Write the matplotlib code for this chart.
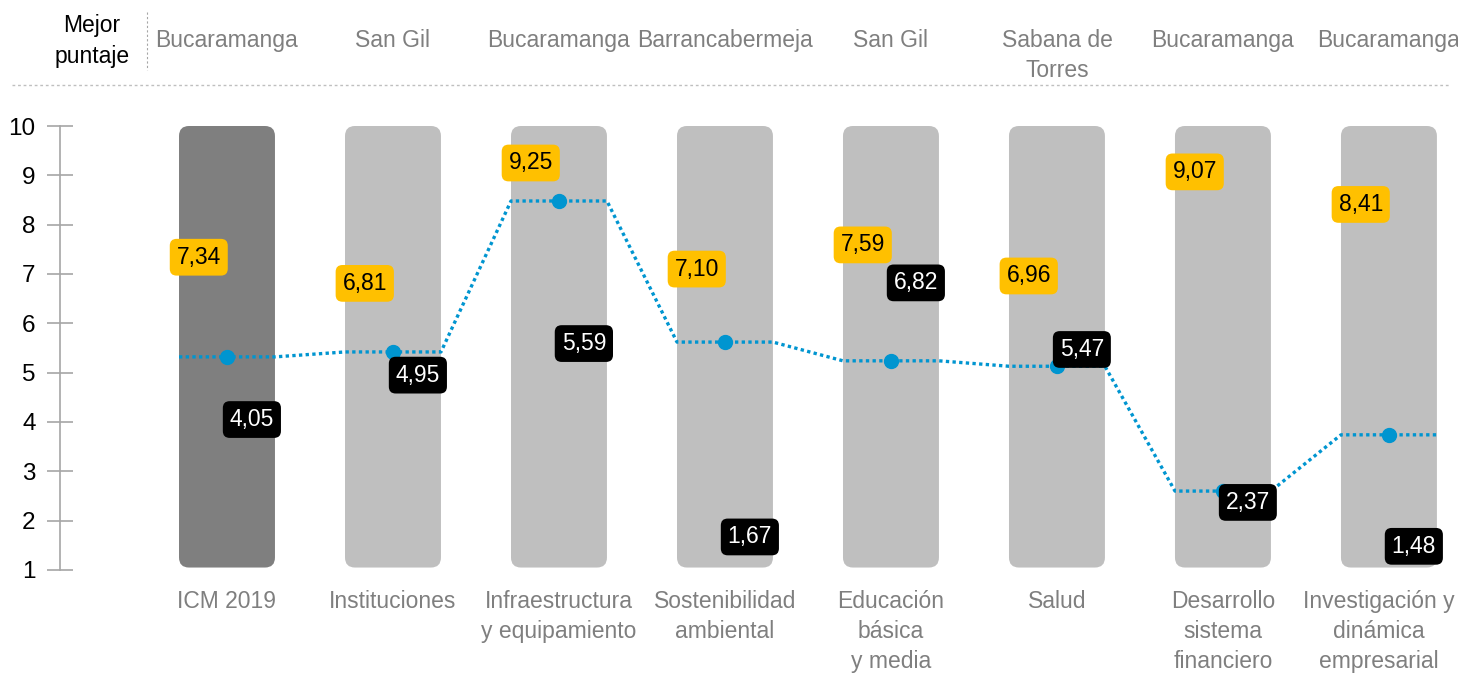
import matplotlib.pyplot as plt
from matplotlib.patches import FancyBboxPatch
from matplotlib.lines import Line2D
from matplotlib.transforms import blended_transform_factory

plt.rcParams['font.family'] = ['Liberation Sans', 'DejaVu Sans']

# Datos por pilar
categorias = ['ICM 2019', 'Instituciones', 'Infraestructura\ny equipamiento',
              'Sostenibilidad\nambiental', 'Educación\nbásica\ny media', 'Salud',
              'Desarrollo\nsistema\nfinanciero', 'Investigación y\ndinámica\nempresarial']
mejor_municipio = ['Bucaramanga', 'San Gil', 'Bucaramanga', 'Barrancabermeja',
                   'San Gil', 'Sabana de\nTorres', 'Bucaramanga', 'Bucaramanga']
mejor_puntaje = [7.34, 6.81, 9.25, 7.10, 7.59, 6.96, 9.07, 8.41]
peor_puntaje = [4.05, 4.95, 5.59, 1.67, 6.82, 5.47, 2.37, 1.48]
promedio = [5.32, 5.42, 8.48, 5.62, 5.24, 5.13, 2.60, 3.74]

W, H = 1458, 677
fig = plt.figure(figsize=(W / 100, H / 100), dpi=100)
ax = fig.add_axes([60 / W, 107 / H, (W - 60) / W, 444 / H])

GRIS = '#7f7f7f'
AZUL = '#0095d0'
FS = 16.5
ancho = 0.578
n = len(categorias)

ax.set_xlim(-1.006, 7.416)
ax.set_ylim(1, 10)

# Barras de fondo redondeadas (escala 1 a 10)
for i in range(n):
    color = '#7f7f7f' if i == 0 else '#bfbfbf'
    ax.add_patch(FancyBboxPatch((i - ancho / 2, 1.05), ancho, 8.95,
                                boxstyle='round,pad=0,rounding_size=0.06',
                                mutation_aspect=3.37, fc=color, ec='none', zorder=1))

# Linea punteada del promedio: tramo plano sobre cada barra
xs, ys = [], []
for i, v in enumerate(promedio):
    xs += [i - ancho / 2, i + ancho / 2]
    ys += [v, v]
ax.plot(xs, ys, color=AZUL, lw=2.4, ls=(0, (1, 1)), zorder=2)
ax.plot(range(n), promedio, 'o', color=AZUL, ms=10, zorder=3)

# Etiquetas de mejor (amarillo) y peor (negro) puntaje
caja = 'round,pad=0.3,rounding_size=0.3'
for i in range(n):
    ax.text(i - 0.17, mejor_puntaje[i], f'{mejor_puntaje[i]:.2f}'.replace('.', ','),
            ha='center', va='center', fontsize=FS, color='black', zorder=4,
            bbox=dict(boxstyle=caja, fc='#ffc000', ec='none'))
    ax.text(i + 0.15, peor_puntaje[i], f'{peor_puntaje[i]:.2f}'.replace('.', ','),
            ha='center', va='center', fontsize=FS, color='white', zorder=4,
            bbox=dict(boxstyle=caja, fc='black', ec='none'))

# Eje vertical
ax.set_yticks(range(1, 11))
ax.set_xticks([])
for s in ['top', 'right', 'bottom']:
    ax.spines[s].set_visible(False)
ax.spines['left'].set_color('#a6a6a6')
ax.spines['left'].set_linewidth(1.2)
ax.tick_params(axis='y', direction='inout', length=19, width=1.2, color='#a6a6a6',
               labelsize=FS + 1, pad=8)

# Nombres de los pilares debajo de las barras
tr = blended_transform_factory(ax.transData, fig.transFigure)
for i, c in enumerate(categorias):
    if i == n - 1:
        # el ultimo se alinea al borde derecho para que no se corte
        ax.text(1455 / W, 1 - 590 / H, c, transform=fig.transFigure, ha='right',
                va='top', multialignment='center', fontsize=FS, color=GRIS,
                linespacing=1.4)
    else:
        ax.text(i, 1 - 590 / H, c, transform=tr, ha='center', va='top', fontsize=FS,
                color=GRIS, linespacing=1.4)

# Encabezado con el municipio de mejor puntaje
for i, m in enumerate(mejor_municipio):
    ax.text(i, 1 - 29 / H, m, transform=tr, ha='center', va='top', fontsize=FS,
            color=GRIS, linespacing=1.4)
fig.text(92 / W, 1 - 41 / H, 'Mejor\npuntaje', ha='center', va='center', fontsize=FS,
         color='black', linespacing=1.4)
fig.add_artist(Line2D([147 / W, 147 / W], [1 - 12 / H, 1 - 70 / H], color='#a6a6a6',
                      lw=0.8, ls=(0, (2, 2))))
fig.add_artist(Line2D([12 / W, 1450 / W], [1 - 85 / H, 1 - 85 / H], color='#bfbfbf',
                      lw=1, ls=(0, (2, 2))))

fig.savefig('out.png', dpi=100)
